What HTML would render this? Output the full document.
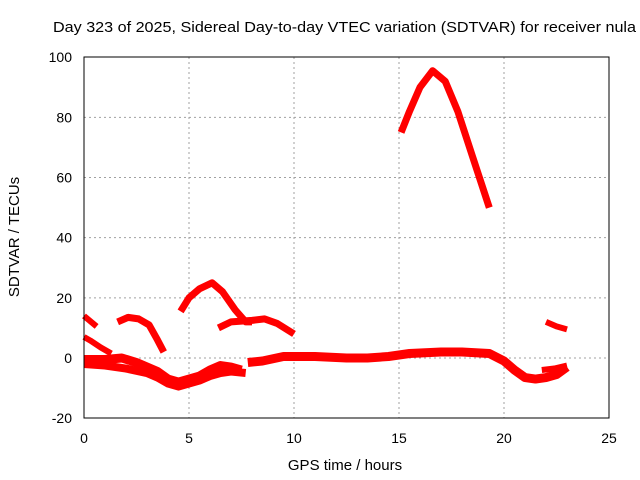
<!DOCTYPE html>
<html><head><meta charset="utf-8"><style>
body{margin:0;background:#fff;}
svg{display:block;font-family:"Liberation Sans",sans-serif;}
</style></head><body>
<svg id="chart" width="640" height="480" viewBox="0 0 640 480">
<text x="53" y="32" font-size="15" textLength="583" lengthAdjust="spacingAndGlyphs">Day 323 of 2025, Sidereal Day-to-day VTEC variation (SDTVAR) for receiver nula</text>
<g id="grid"></g>
<g id="series"></g>
<rect x="84" y="57" width="525" height="361" fill="none" stroke="#000" stroke-width="1"/>
<g id="ticks"></g>
<text x="345" y="470" font-size="15" text-anchor="middle">GPS time / hours</text>
<text x="0" y="0" font-size="15" text-anchor="middle" transform="translate(19,237) rotate(-90)">SDTVAR / TECUs</text>
</svg>
<script>
const xTicks=[0,5,10,15,20,25];
const yTicks=[-20,0,20,40,60,80,100];
const s1=[[0,14],[0.6,10.5]];
const s2=[[0,7],[0.3,5.8],[0.8,3.5],[1.3,1.5]];
const s3=[[1.6,12],[2.1,13.5],[2.6,13],[3.1,11],[3.5,6],[3.8,2]];
const s4=[[4.6,15.5],[5,20],[5.5,23],[6.1,25],[6.6,22],[7.2,16],[7.7,12],[8,12]];
const s5=[[6.4,10],[7,12],[8,12.5],[8.6,13],[9.2,11.5],[10,8]];
const s6=[[15.1,75],[15.5,82],[16,90],[16.6,95.5],[17.2,92],[17.8,82],[18.5,67],[19.3,50]];
const s7=[[22,12],[22.5,10.5],[23,9.5]];
const band1=[[0,-0.5],[1,-0.5],[1.8,0],[2.5,-1.5],[3,-3],[3.5,-4.5],[4,-7],[4.5,-8],[5,-7],[5.5,-6],[6,-4],[6.5,-2.5],[7,-3],[7.5,-4]];
const band2=[[0,-2],[1,-2.5],[2,-3.5],[3,-5],[3.5,-6.5],[4,-8.5],[4.5,-9.5],[5,-8.5],[5.5,-7.5],[6,-6],[6.5,-5],[7,-4.5],[7.7,-5]];
const band3=[[7.8,-1.5],[8.5,-1],[9.5,0.5],[11,0.5],[12.5,0],[13.5,0],[14.5,0.5],[15.5,1.5],[17,2],[18,2],[19.3,1.5],[20,-1],[20.5,-4],[21,-6.5],[21.5,-7],[22,-6.5],[22.5,-5.5],[23,-3]];
const band4=[[21.8,-4],[22.4,-3.5],[23,-2.5]];
const X=v=>84+v*21;
const Y=v=>358-v*3.008;
const ns="http://www.w3.org/2000/svg";
const grid=document.getElementById('grid'),ser=document.getElementById('series'),tk=document.getElementById('ticks');
function mk(t,a,p){const e=document.createElementNS(ns,t);for(const k in a)e.setAttribute(k,a[k]);p.appendChild(e);return e;}
xTicks.forEach(v=>{
  if(v>0&&v<25){const g=mk('line',{x1:X(v),x2:X(v),y1:57,y2:418,stroke:'#a0a0a0','stroke-dasharray':'2,3'},grid);
  
  }
  const t=mk('text',{x:X(v),y:443,'font-size':14,'text-anchor':'middle'},tk);t.textContent=v;
  
  
});
yTicks.forEach(v=>{
  if(v>-20&&v<100){const g=mk('line',{x1:84,x2:609,y1:Y(v),y2:Y(v),stroke:'#a0a0a0','stroke-dasharray':'2,3'},grid);
  
  }
  const t=mk('text',{x:72,y:Y(v)+5,'font-size':14,'text-anchor':'end'},tk);t.textContent=v;
  
  
});
const all=[[s1,6,'arc-1'],[s2,6,'arc-2'],[s3,7,'arc-3'],[s4,7,'arc-4'],[s5,7,'arc-5'],[s6,7,'arc-6'],[s7,6,'arc-7'],[band1,9,'band-1'],[band2,8,'band-2'],[band3,9,'band-3'],[band4,6,'band-4']];
all.forEach(([d,w,n])=>{
  const p=mk('polyline',{points:d.map(q=>X(q[0])+','+Y(q[1])).join(' '),fill:'none',stroke:'#ff0000','stroke-width':w,'stroke-linejoin':'round'},ser);
  
  
});
</script>
</body></html>
